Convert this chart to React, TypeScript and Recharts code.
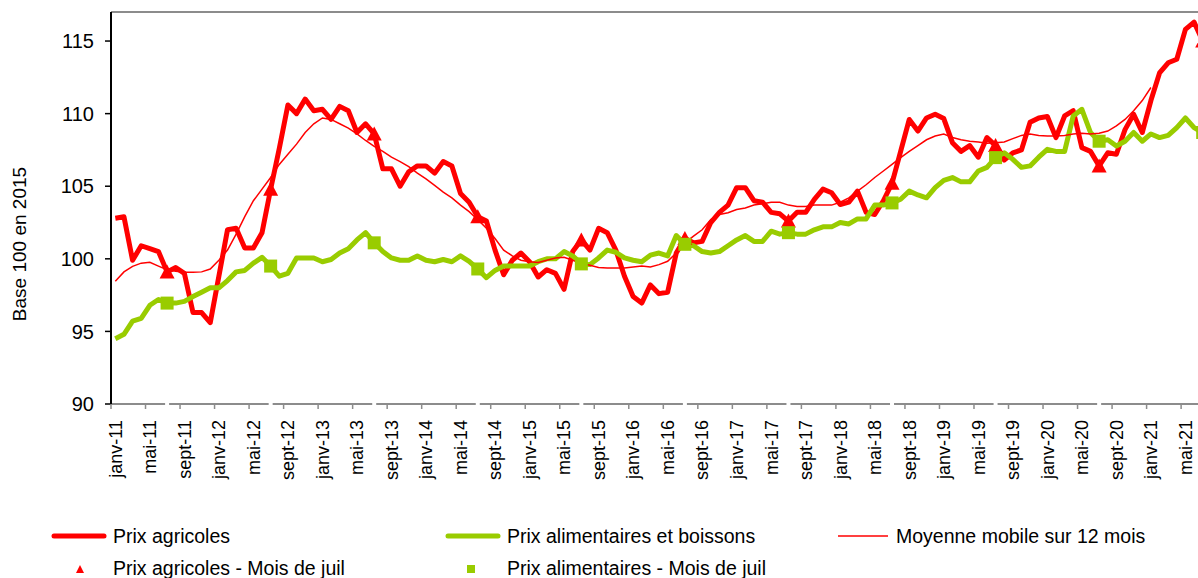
import React from 'react';
import { LineChart, Line, XAxis, YAxis, ReferenceLine } from 'recharts';

const monthNames = ['janv', 'févr', 'mars', 'avr', 'mai', 'juin', 'juil', 'août', 'sept', 'oct', 'nov', 'déc'];
const years = [11, 12, 13, 14, 15, 16, 17, 18, 19, 20, 21];

// janv-11 ... juil-21
const months: string[] = [];
years.forEach((yr) => {
  monthNames.forEach((m, k) => {
    if (yr === 21 && k > 6) return;
    months.push(`${m}-${yr}`);
  });
});

const prixAgricoles = [
  102.8, 102.9, 99.9, 100.9, 100.7, 100.5, 99.1, 99.4, 99.0, 96.3, 96.3, 95.6,
  98.8, 102.0, 102.1, 100.75, 100.75, 101.8, 104.8, 107.6, 110.6, 110.0, 111.0, 110.2,
  110.3, 109.6, 110.5, 110.2, 108.7, 109.3, 108.6, 106.2, 106.2, 105.0, 106.0, 106.4,
  106.4, 105.9, 106.7, 106.4, 104.5, 103.9, 102.9, 102.6, 100.6, 98.9, 99.9, 100.4,
  99.8, 98.75, 99.25, 99.0, 97.9, 100.5, 101.3, 100.6, 102.1, 101.8, 100.6, 98.8,
  97.4, 96.95, 98.2, 97.6, 97.7, 100.4, 101.4, 101.1, 101.2, 102.5, 103.2, 103.7,
  104.9, 104.9, 104.0, 103.9, 103.2, 103.1, 102.6, 103.2, 103.2, 104.1, 104.8, 104.55,
  103.74, 103.9, 104.66, 103.2, 103.05, 104.0, 105.2, 107.4, 109.6, 108.8, 109.7, 109.96,
  109.66, 108.0, 107.4, 107.8, 107.0, 108.35, 107.8, 106.8, 107.3, 107.5, 109.4, 109.7,
  109.8, 108.35, 109.84, 110.2, 107.66, 107.4, 106.4, 107.3, 107.2, 108.9, 109.96, 108.7,
  110.9, 112.8, 113.5, 113.75, 115.8, 116.3, 115.0,
];

const prixAlimentaires = [
  94.5, 94.8, 95.7, 95.9, 96.8, 97.2, 96.95, 96.95, 97.07, 97.4, 97.7, 98.0,
  98.0, 98.5, 99.1, 99.2, 99.7, 100.1, 99.5, 98.8, 99.0, 100.06, 100.06, 100.06,
  99.8, 99.95, 100.4, 100.7, 101.3, 101.8, 101.1, 100.5, 100.06, 99.9, 99.9, 100.2,
  99.9, 99.8, 99.95, 99.8, 100.2, 99.83, 99.3, 98.7, 99.2, 99.5, 99.5, 99.5,
  99.5, 99.8, 100.0, 100.0, 100.5, 100.2, 99.65, 99.6, 100.06, 100.6, 100.45, 100.06,
  99.9, 99.8, 100.25, 100.4, 100.2, 101.6, 101.0, 100.9, 100.5, 100.4, 100.5, 100.9,
  101.3, 101.6, 101.2, 101.2, 101.9, 101.7, 101.8, 101.7, 101.7, 102.0, 102.2, 102.2,
  102.5, 102.4, 102.75, 102.75, 103.7, 103.7, 103.85, 104.1, 104.66, 104.4, 104.2, 104.9,
  105.4, 105.6, 105.3, 105.3, 106.05, 106.3, 106.97, 107.3, 106.85, 106.3, 106.4, 107.0,
  107.54, 107.4, 107.4, 109.84, 110.3, 108.7, 108.1, 108.2, 107.77, 108.1, 108.7, 108.1,
  108.6, 108.35, 108.5, 109.04, 109.7, 109.04, 108.7,
];

const moyenneMobile: (number | null)[] = [
  98.45, 99.1, 99.48, 99.7, 99.76, 99.5, 99.25, 99.15, 99.07, 99.07, 99.1, 99.3,
  99.9, 100.6, 101.7, 102.9, 104.0, 104.8, 105.6, 106.5, 107.2, 107.9, 108.7, 109.3,
  109.7, 109.6, 109.3, 109.0, 108.6, 108.15, 107.75, 107.4, 107.0, 106.7, 106.35, 105.9,
  105.5, 105.06, 104.6, 104.2, 103.7, 103.25, 102.7, 102.1, 101.4, 100.6, 100.2, 99.9,
  99.8, 99.75, 99.9, 100.06, 100.1, 99.9, 99.67, 99.55, 99.4, 99.37, 99.37, 99.37,
  99.44, 99.5, 99.44, 99.6, 99.83, 100.4, 101.1, 101.56, 102.0, 102.7, 103.05, 103.17,
  103.4, 103.5, 103.7, 103.8, 103.9, 103.9, 103.7, 103.6, 103.6, 103.7, 103.7, 103.7,
  103.9, 104.2, 104.66, 105.1, 105.6, 106.05, 106.5, 106.97, 107.4, 107.8, 108.2, 108.46,
  108.6, 108.35, 108.2, 108.1, 108.05, 107.96, 108.0, 108.05, 108.28, 108.5, 108.6, 108.5,
  108.46, 108.46, 108.5, 108.6, 108.65, 108.6, 108.65, 108.8, 109.15, 109.6, 110.2, 110.9,
  111.8, null, null, null, null, null, null,
];

const yTicks = [90, 95, 100, 105, 110, 115];

const RED = '#FF0000';
const GREEN = '#99CC00';
const AXIS_GREY = '#8C8C8C';
const HALF_BAND = 4.315;

const data = months.map((m, i) => ({
  month: m,
  agri: prixAgricoles[i],
  alim: prixAlimentaires[i],
  mm: moyenneMobile[i],
  juilAgri: m.startsWith('juil') ? prixAgricoles[i] : null,
  juilAlim: m.startsWith('juil') ? prixAlimentaires[i] : null,
}));

function MonthTick(props: any) {
  const { x, y, payload } = props;
  return (
    <g>
      <line x1={x - HALF_BAND} x2={x - HALF_BAND} y1={y - 5} y2={y} stroke={AXIS_GREY} strokeWidth={1.5} />
      <text
        transform={`translate(${x},${y + 11}) rotate(-90)`}
        textAnchor="end"
        dy="0.35em"
        fontSize={18}
        fill="#000"
      >
        {payload.value}
      </text>
    </g>
  );
}

function TriangleDot(props: any) {
  const { cx, cy, value } = props;
  if (cx == null || cy == null || value == null) return null;
  return <polygon points={`${cx},${cy - 7.5} ${cx - 7.5},${cy + 6.5} ${cx + 7.5},${cy + 6.5}`} fill={RED} />;
}

function SquareDot(props: any) {
  const { cx, cy, value } = props;
  if (cx == null || cy == null || value == null) return null;
  return <rect x={cx - 6.5} y={cy - 6.5} width={13} height={13} fill={GREEN} />;
}

function YLabel() {
  return (
    <text transform="translate(26,244) rotate(-90)" textAnchor="middle" fontSize={19} fill="#000">
      Base 100 en 2015
    </text>
  );
}

const legendText: React.CSSProperties = { position: 'absolute', fontSize: 19.5, lineHeight: '20px', color: '#000', whiteSpace: 'nowrap' };

function ChartLegend() {
  return (
    <>
      <svg width={1198} height={578} style={{ position: 'absolute', left: 0, top: 0, pointerEvents: 'none' }}>
        <line x1={54} x2={104} y1={536} y2={536} stroke={RED} strokeWidth={5} strokeLinecap="round" />
        <line x1={448} x2={498} y1={536} y2={536} stroke={GREEN} strokeWidth={5} strokeLinecap="round" />
        <line x1={838} x2={888} y1={536} y2={536} stroke={RED} strokeWidth={1.5} />
        <polygon points="80,565 76,573 84,573" fill={RED} />
        <rect x={467} y={565} width={8} height={8} fill={GREEN} />
      </svg>
      <div style={{ ...legendText, left: 113, top: 526 }}>Prix agricoles</div>
      <div style={{ ...legendText, left: 507, top: 526 }}>Prix alimentaires et boissons</div>
      <div style={{ ...legendText, left: 896, top: 526 }}>Moyenne mobile sur 12 mois</div>
      <div style={{ ...legendText, left: 113, top: 558 }}>Prix agricoles - Mois de juil</div>
      <div style={{ ...legendText, left: 507, top: 558 }}>Prix alimentaires - Mois de juil</div>
    </>
  );
}

export default function App() {
  return (
    <div
      style={{
        position: 'absolute',
        left: 0,
        top: 0,
        width: 1198,
        height: 578,
        overflow: 'hidden',
        background: '#fff',
        fontFamily: '"Liberation Sans", Arial, sans-serif',
      }}
    >
      <LineChart width={1212} height={578} data={data} margin={{ top: 12, right: 5, bottom: 0, left: 0 }}>
        <XAxis
          dataKey="month"
          scale="point"
          padding={{ left: HALF_BAND, right: HALF_BAND }}
          interval={3}
          height={174}
          tickSize={5}
          tickMargin={0}
          tickLine={false}
          tick={<MonthTick />}
          axisLine={{ stroke: AXIS_GREY, strokeWidth: 2, strokeDasharray: '99.56 4', strokeDashoffset: 45.46 }}
        />
        <YAxis
          domain={[90, 117]}
          ticks={yTicks}
          allowDataOverflow
          width={111}
          tickSize={6}
          tickMargin={11}
          tick={{ fontSize: 20, fill: '#000' }}
          axisLine={{ stroke: '#000', strokeWidth: 2 }}
          tickLine={{ stroke: '#000', strokeWidth: 1.5 }}
          label={<YLabel />}
        />
        <ReferenceLine y={117} stroke={AXIS_GREY} strokeWidth={2} />
        <Line dataKey="agri" stroke={RED} strokeWidth={5} strokeLinejoin="round" dot={false} activeDot={false} isAnimationActive={false} />
        <Line dataKey="alim" stroke={GREEN} strokeWidth={5} strokeLinejoin="round" dot={false} activeDot={false} isAnimationActive={false} />
        <Line dataKey="mm" stroke={RED} strokeWidth={1.5} dot={false} activeDot={false} isAnimationActive={false} />
        <Line dataKey="juilAgri" stroke="none" dot={<TriangleDot />} activeDot={false} isAnimationActive={false} />
        <Line dataKey="juilAlim" stroke="none" dot={<SquareDot />} activeDot={false} isAnimationActive={false} />
      </LineChart>
      <ChartLegend />
    </div>
  );
}
